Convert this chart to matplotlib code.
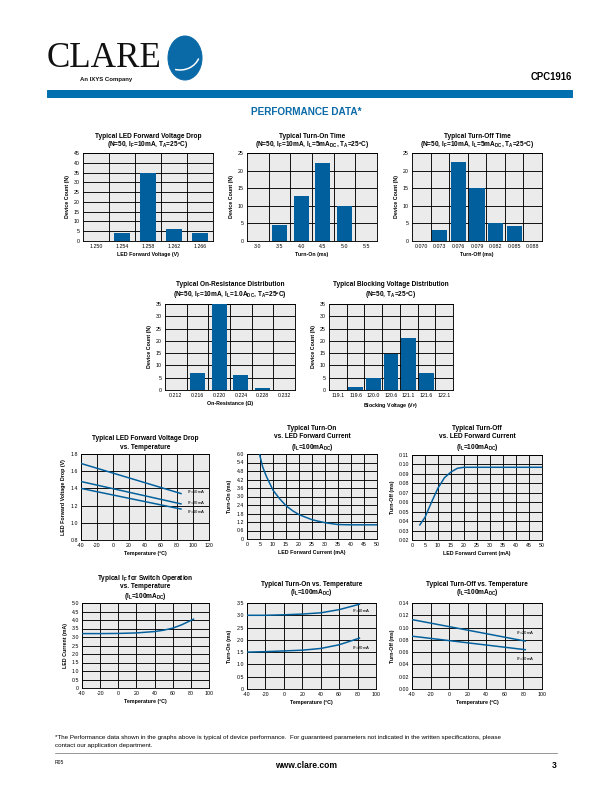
import matplotlib
matplotlib.use('Agg')
import matplotlib.pyplot as plt
from matplotlib.patches import Circle, Rectangle, Arc
from matplotlib.lines import Line2D

plt.rcParams['font.family'] = ['Liberation Sans', 'DejaVu Sans']
plt.rcParams['mathtext.default'] = 'regular'
plt.rcParams['axes.unicode_minus'] = False

W, H = 612, 792
fig = plt.figure(figsize=(W / 72, H / 72), dpi=72)

BLUE = '#005f9c'
BG = '#ebebeb'

# ---------------- data ----------------
vf_bins = ['1.250', '1.254', '1.258', '1.262', '1.266']
vf_counts = [0, 4, 35, 6, 4]

ton_bins = ['3.0', '3.5', '4.0', '4.5', '5.0', '5.5']
ton_counts = [0, 4.6, 12.8, 22.3, 10, 0]

toff_bins = ['0.070', '0.073', '0.076', '0.079', '0.082', '0.085', '0.088']
toff_counts = [0, 3, 22.5, 15, 5, 4.3, 0]

ron_bins = ['0.212', '0.216', '0.220', '0.224', '0.228', '0.232']
ron_counts = [0, 7, 35, 6.3, 1, 0]

bv_bins = ['119.1', '119.6', '120.0', '120.6', '121.1', '121.6', '122.1']
bv_counts = [0, 1.3, 4.9, 14.8, 21.2, 7.1, 0]

vf_temp = [-40, 85]
vf_50mA = [1.69, 1.34]
vf_20mA = [1.48, 1.22]
vf_10mA = [1.40, 1.16]

ton_if_x = [4.8, 6, 7.5, 10, 12.5, 15, 17.5, 20, 25, 30, 35, 40, 45, 50]
ton_if_y = [6.0, 5.1, 4.4, 3.45, 2.85, 2.35, 2.0, 1.72, 1.36, 1.15, 1.02, 1.0, 1.0, 1.0]

toff_if_x = [3, 5, 7.5, 10, 12.5, 15, 17.5, 20, 30, 40, 50]
toff_if_y = [0.036, 0.044, 0.060, 0.075, 0.086, 0.092, 0.096, 0.097, 0.097, 0.097, 0.097]

ifsw_temp = [-40, -20, 0, 20, 40, 50, 60, 70, 83]
ifsw_val = [3.2, 3.2, 3.21, 3.24, 3.32, 3.4, 3.52, 3.72, 4.05]

tont_temp = [-40, -20, 0, 20, 40, 60, 82]
tont_10mA = [3.0, 3.0, 3.02, 3.05, 3.1, 3.23, 3.45]
tont_20mA = [1.5, 1.52, 1.55, 1.58, 1.65, 1.8, 2.07]

tofft_temp = [-40, 82]
tofft_20mA = [0.113, 0.078]
tofft_10mA = [0.086, 0.064]

TICK_FS = 5.3
LAB_FS = 5.3
TITLE_FS = 6.5


def add_ax(x0, y0, x1, y1):
    ax = fig.add_axes([x0 / W, 1 - y1 / H, (x1 - x0) / W, (y1 - y0) / H])
    ax.set_facecolor(BG)
    for s in ax.spines.values():
        s.set_linewidth(0.9)
        s.set_color('black')
    ax.tick_params(length=0, pad=3, labelsize=TICK_FS)
    ax.set_axisbelow(True)
    return ax


def titles(cx, ys, lines):
    for y, t in zip(ys, lines):
        fig.text(cx / W, 1 - y / H, t, ha='center', va='center',
                 fontsize=TITLE_FS, fontweight='bold')


def hist(box, bins, counts, ymax, ystep, width, xlabel, tl, tys):
    x0, y0, x1, y1 = box
    ax = add_ax(*box)
    n = len(bins)
    pos = list(range(n))
    ax.bar(pos, counts, width=width, color=BLUE, zorder=3)
    ax.set_xlim(-0.5, n - 0.5)
    ax.set_ylim(0, ymax)
    ax.set_xticks(pos)
    ax.set_xticklabels(bins)
    ax.set_yticks(range(0, ymax + 1, ystep))
    ax.set_xticks([k + 0.5 for k in range(n - 1)], minor=True)
    ax.tick_params(which='minor', length=0)
    ax.grid(True, which='minor', axis='x', color='black', lw=0.9)
    ax.grid(True, which='major', axis='y', color='black', lw=0.9)
    ax.set_xlabel(xlabel, fontsize=LAB_FS, fontweight='bold', labelpad=3)
    ax.set_ylabel('Device Count (N)', fontsize=LAB_FS, fontweight='bold', labelpad=4)
    titles((x0 + x1) / 2, tys, tl)
    return ax


def line_ax(box, xlim, xstep, ylim, yticks, ylabels, xlabel, ylabel, tl, tys):
    x0, y0, x1, y1 = box
    ax = add_ax(*box)
    ax.set_xlim(*xlim)
    ax.set_ylim(*ylim)
    xt = list(range(xlim[0], xlim[1] + 1, xstep))
    ax.set_xticks(xt)
    ax.set_yticks(yticks)
    ax.set_yticklabels(ylabels)
    ax.grid(True, color='black', lw=0.9)
    ax.set_xlabel(xlabel, fontsize=LAB_FS, fontweight='bold', labelpad=3)
    ax.set_ylabel(ylabel, fontsize=LAB_FS, fontweight='bold', labelpad=4)
    titles((x0 + x1) / 2, tys, tl)
    return ax


# ---------------- row 1 ----------------
hist((83, 153, 213, 241), vf_bins, vf_counts, 45, 5, 0.62,
     'LED Forward Voltage (V)',
     ['Typical LED Forward Voltage Drop', r'(N=50, I$_F$=10mA, T$_A$=25ºC)'], [136, 145])
hist((247, 153, 377, 241), ton_bins, ton_counts, 25, 5, 0.7,
     'Turn-On (ms)',
     ['Typical Turn-On Time', r'(N=50, I$_F$=10mA, I$_L$=5mA$_{DC}$, T$_A$=25ºC)'], [136, 145])
hist((412, 153, 542, 241), toff_bins, toff_counts, 25, 5, 0.82,
     'Turn-Off (ms)',
     ['Typical Turn-Off Time', r'(N=50, I$_F$=10mA, I$_L$=5mA$_{DC}$, T$_A$=25ºC)'], [136, 145])

# ---------------- row 2 ----------------
hist((165, 304, 295, 390), ron_bins, ron_counts, 35, 5, 0.7,
     'On-Resistance (Ω)',
     ['Typical On-Resistance Distribution', r'(N=50, I$_F$=10mA, I$_L$=1.0A$_{DC}$, T$_A$=25ºC)'], [285, 295])
hist((329, 304, 453, 390), bv_bins, bv_counts, 35, 5, 0.82,
     r'Blocking Voltage (V$_P$)',
     ['Typical Blocking Voltage Distribution', r'(N=50, T$_A$=25ºC)'], [285, 295])

# ---------------- row 3 ----------------
ax = line_ax((81, 454, 209, 540), (-40, 120), 20, (0.8, 1.8),
             [0.8, 1.0, 1.2, 1.4, 1.6, 1.8], ['0.8', '1.0', '1.2', '1.4', '1.6', '1.8'],
             'Temperature (ºC)', 'LED Forward Voltage Drop (V)',
             ['Typical LED Forward Voltage Drop', 'vs. Temperature'], [439, 447])
for yv in (vf_50mA, vf_20mA, vf_10mA):
    ax.plot(vf_temp, yv, color=BLUE, lw=1.5, zorder=3)
ax.text(92, 1.36, r'I$_F$=50mA', fontsize=4.3, va='center')
ax.text(92, 1.225, r'I$_F$=20mA', fontsize=4.3, va='center')
ax.text(92, 1.125, r'I$_F$=10mA', fontsize=4.3, va='center')

yt7 = [0, 0.6, 1.2, 1.8, 2.4, 3.0, 3.6, 4.2, 4.8, 5.4, 6.0]
ax = line_ax((247, 454, 377, 539), (0, 50), 5, (0, 6.0),
             yt7, ['0'] + ['%.1f' % v for v in yt7[1:]],
             'LED Forward Current (mA)', 'Turn-On (ms)',
             ['Typical Turn-On', 'vs. LED Forward Current', r'(I$_L$=100mA$_{DC}$)'], [428, 437, 447])
ax.plot(ton_if_x, ton_if_y, color=BLUE, lw=1.5, zorder=3, clip_on=True)

yt8 = [0.02, 0.03, 0.04, 0.05, 0.06, 0.07, 0.08, 0.09, 0.10, 0.11]
ax = line_ax((412, 455, 542, 540), (0, 50), 5, (0.02, 0.11),
             yt8, ['%.2f' % v for v in yt8],
             'LED Forward Current (mA)', 'Turn-Off (ms)',
             ['Typical Turn-Off', 'vs. LED Forward Current', r'(I$_L$=100mA$_{DC}$)'], [428, 437, 447])
ax.plot(toff_if_x, toff_if_y, color=BLUE, lw=1.5, zorder=3)

# ---------------- row 4 ----------------
yt9 = [0, 0.5, 1.0, 1.5, 2.0, 2.5, 3.0, 3.5, 4.0, 4.5, 5.0]
ax = line_ax((82, 603, 209, 688), (-40, 100), 20, (0, 5.0),
             yt9, ['0'] + ['%.1f' % v for v in yt9[1:]],
             'Temperature (ºC)', 'LED Current (mA)',
             [r'Typical I$_F$ for Switch Operation', 'vs. Temperature', r'(I$_L$=100mA$_{DC}$)'], [579, 587, 596])
ax.plot(ifsw_temp, ifsw_val, color=BLUE, lw=1.5, zorder=3)

yt10 = [0, 0.5, 1.0, 1.5, 2.0, 2.5, 3.0, 3.5]
ax = line_ax((247, 603, 376, 689), (-40, 100), 20, (0, 3.5),
             yt10, ['0'] + ['%.1f' % v for v in yt10[1:]],
             'Temperature (ºC)', 'Turn-On (ms)',
             ['Typical Turn-On vs. Temperature', r'(I$_L$=100mA$_{DC}$)'], [585, 593])
ax.plot(tont_temp, tont_10mA, color=BLUE, lw=1.5, zorder=3)
ax.plot(tont_temp, tont_20mA, color=BLUE, lw=1.5, zorder=3)
ax.text(74, 3.15, r'I$_F$=10mA', fontsize=4.3, va='center')
ax.text(74, 1.65, r'I$_F$=20mA', fontsize=4.3, va='center')

yt11 = [0.0, 0.02, 0.04, 0.06, 0.08, 0.10, 0.12, 0.14]
ax = line_ax((412, 603, 542, 689), (-40, 100), 20, (0, 0.14),
             yt11, ['%.2f' % v for v in yt11],
             'Temperature (ºC)', 'Turn-Off (ms)',
             ['Typical Turn-Off vs. Temperature', r'(I$_L$=100mA$_{DC}$)'], [585, 593])
ax.plot(tofft_temp, tofft_20mA, color=BLUE, lw=1.5, zorder=3)
ax.plot(tofft_temp, tofft_10mA, color=BLUE, lw=1.5, zorder=3)
ax.text(72, 0.091, r'I$_F$=20mA', fontsize=4.3, va='center')
ax.text(72, 0.049, r'I$_F$=10mA', fontsize=4.3, va='center')

# ---------------- header ----------------
def fx(x):
    return x / W


def fy(y):
    return 1 - y / H


fig.text(fx(47), fy(67), 'CLARE', fontsize=35, family='Liberation Serif',
         ha='left', va='baseline', color='#111111')
fig.text(fx(80), fy(80.5), 'An IXYS Company', fontsize=6, fontweight='bold',
         ha='left', va='baseline', color='#111111')
circ = Circle((fx(185), fy(58)), 17 / W, transform=fig.transFigure,
              color='#0a6aa8', zorder=5)
fig.add_artist(circ)
fig.add_artist(Arc((fx(180), fy(52)), 40 / W, 36 / H, theta1=250, theta2=345,
                   transform=fig.transFigure, color='white', lw=1.5, zorder=6))
fig.add_artist(Rectangle((fx(47), fy(97)), (572 - 47) / W, 7 / H,
                         transform=fig.transFigure, color='#0070b0', zorder=5))
fig.text(fx(572), fy(77), 'CPC1916', fontsize=9.5, fontweight='bold',
         ha='right', va='center')
fig.text(fx(306), fy(112), 'PERFORMANCE DATA*', fontsize=10, fontweight='bold',
         ha='center', va='center', color='#0a6aa8')

# ---------------- footer ----------------
fig.text(fx(55), fy(737), '*The Performance data shown in the graphs above is typical of device performance.  '
         'For guaranteed parameters not indicated in the written specifications, please',
         fontsize=6.2, ha='left', va='center')
fig.text(fx(55), fy(746), 'contact our application department.', fontsize=6.2, ha='left', va='center')
fig.add_artist(Line2D([fx(55), fx(557)], [fy(753), fy(753)], transform=fig.transFigure,
                      color='#555555', lw=0.6))
fig.text(fx(55), fy(763), 'R05', fontsize=5, ha='left', va='center')
fig.text(fx(306), fy(765), 'www.clare.com', fontsize=8.5, fontweight='bold', ha='center', va='center')
fig.text(fx(557), fy(765), '3', fontsize=8.5, fontweight='bold', ha='right', va='center')

fig.savefig('out.png', dpi=72, facecolor='white')
